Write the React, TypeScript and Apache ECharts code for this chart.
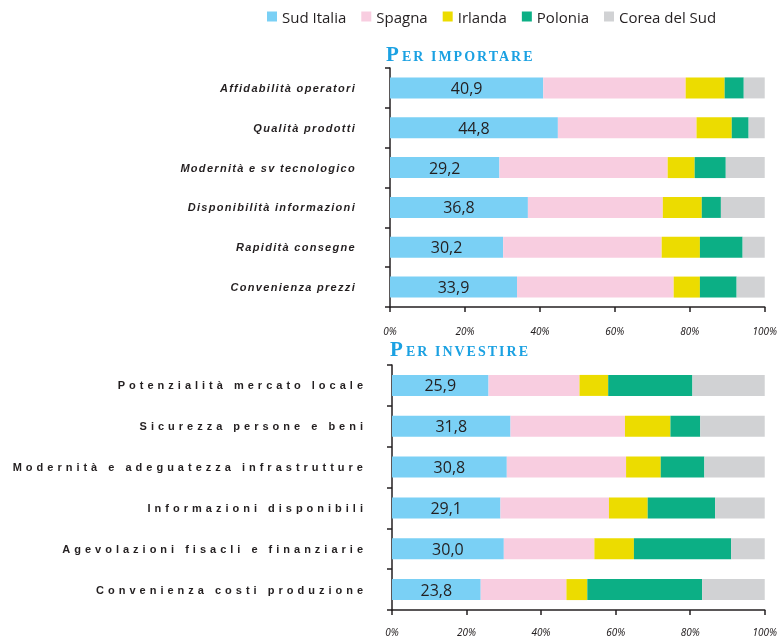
import React, { useEffect, useRef } from 'react';
import * as echarts from 'echarts';

const seriesNames = ['Sud Italia', 'Spagna', 'Irlanda', 'Polonia', 'Corea del Sud'];
const seriesColors = ['#7ad0f5', '#f8cde0', '#ecdc00', '#0caf85', '#d1d2d4'];

// Per importare
const importCategories = [
  'Affidabilità operatori',
  'Qualità prodotti',
  'Modernità e sv tecnologico',
  'Disponibilità informazioni',
  'Rapidità consegne',
  'Convenienza prezzi',
];
const importSudItalia = [40.9, 44.8, 29.2, 36.8, 30.2, 33.9];
const importSpagna = [38.0, 37.0, 44.9, 36.0, 42.3, 41.8];
const importIrlanda = [10.4, 9.4, 7.2, 10.4, 10.2, 7.0];
const importPolonia = [5.1, 4.5, 8.3, 5.1, 11.4, 9.8];
const importCorea = [5.6, 4.3, 10.4, 11.7, 5.9, 7.5];

// Per investire
const investCategories = [
  'Potenzialità mercato locale',
  'Sicurezza persone e beni',
  'Modernità e adeguatezza infrastrutture',
  'Informazioni disponibili',
  'Agevolazioni fisacli e finanziarie',
  'Convenienza costi produzione',
];
const investSudItalia = [25.9, 31.8, 30.8, 29.1, 30.0, 23.8];
const investSpagna = [24.4, 30.7, 32.0, 29.1, 24.3, 23.0];
const investIrlanda = [7.7, 12.2, 9.3, 10.4, 10.6, 5.6];
const investPolonia = [22.6, 8.0, 11.7, 18.1, 26.1, 30.8];
const investCorea = [19.4, 17.3, 16.2, 13.3, 9.0, 16.8];

const xMin = 0;
const xMax = 100;
const xInterval = 20;

const titleImport = ['P', 'ER IMPORTARE'];
const titleInvest = ['P', 'ER INVESTIRE'];

const css = `
.chartbox text[style*="Liberation Sans"] { letter-spacing: 4px; }
.chartbox text[style*="italic"][style*="Liberation Sans"] { letter-spacing: 1.3px; }
.chartbox text[style*="Liberation Serif"] { letter-spacing: 2px; }
`;

const ink = '#231f20';
const titleBlue = '#1ba1e2';

export default function App() {
  const ref = useRef<HTMLDivElement>(null);

  useEffect(() => {
    if (!ref.current) return;
    const chart = echarts.init(ref.current, null, { renderer: 'svg' });

    const importData = [importSudItalia, importSpagna, importIrlanda, importPolonia, importCorea];
    const investData = [investSudItalia, investSpagna, investIrlanda, investPolonia, investCorea];

    const barLabel = {
      show: true,
      position: 'inside',
      fontFamily: 'Open Sans',
      fontSize: 16,
      color: ink,
      formatter: (p: any) => Number(p.value).toFixed(1).replace('.', ','),
    };

    const makeSeries = (data: number[][], axisIndex: number, stack: string) =>
      data.map((vals, i) => ({
        name: seriesNames[i],
        type: 'bar',
        stack,
        xAxisIndex: axisIndex,
        yAxisIndex: axisIndex,
        data: vals,
        barWidth: 21,
        itemStyle: { color: seriesColors[i] },
        label: i === 0 ? barLabel : { show: false },
        emphasis: { disabled: true },
      }));

    const xAxisCommon = (gridIndex: number, margin: number) => ({
      type: 'value',
      gridIndex,
      min: xMin,
      max: xMax,
      interval: xInterval,
      splitLine: { show: false },
      axisLine: { show: true, lineStyle: { color: ink, width: 1.5 } },
      axisTick: { show: true, length: 5, lineStyle: { color: ink, width: 1.5 } },
      axisLabel: {
        margin,
        fontFamily: 'Noto Sans',
        fontStyle: 'italic',
        fontSize: 10,
        color: ink,
        formatter: '{value}%',
      },
    });

    const yAxisCommon = (gridIndex: number, cats: string[], margin: number, italic: boolean) => ({
      type: 'category',
      gridIndex,
      data: cats,
      inverse: true,
      axisLine: { show: true, lineStyle: { color: ink, width: 1.5 } },
      axisTick: { show: true, length: 5, lineStyle: { color: ink, width: 1.5 } },
      axisLabel: {
        interval: 0,
        margin,
        fontFamily: 'Liberation Sans',
        fontWeight: 'bold',
        fontStyle: italic ? 'italic' : 'normal',
        fontSize: 11,
        color: ink,
      },
    });

    const titleText = (x: number, y: number, text: string, size: number) => ({
      type: 'text',
      x,
      y,
      style: {
        text,
        fontFamily: 'Liberation Serif',
        fontWeight: 'bold',
        fontSize: size,
        fill: titleBlue,
        align: 'left',
        verticalAlign: 'bottom',
      },
    });

    const option: any = {
      animation: false,
      textStyle: { fontFamily: 'Open Sans' },
      legend: {
        data: seriesNames,
        left: 262,
        top: 4,
        icon: 'rect',
        itemWidth: 10,
        itemHeight: 10,
        itemGap: 15,
        selectedMode: false,
        textStyle: { fontFamily: 'Open Sans', fontSize: 15, color: ink },
      },
      grid: [
        { left: 390, width: 377, top: 68, height: 239 },
        { left: 392, width: 376, top: 365, height: 245 },
      ],
      xAxis: [xAxisCommon(0, 19), xAxisCommon(1, 17)],
      yAxis: [
        yAxisCommon(0, importCategories, 34, true),
        yAxisCommon(1, investCategories, 25, false),
      ],
      series: [...makeSeries(importData, 0, 'imp'), ...makeSeries(investData, 1, 'inv')],
      graphic: [
        titleText(386, 64, titleImport[0], 21),
        titleText(402, 63, titleImport[1], 14),
        titleText(390, 359, titleInvest[0], 21),
        titleText(406, 358, titleInvest[1], 14),
      ],
    };

    chart.setOption(option);
    return () => chart.dispose();
  }, []);

  return (
    <>
      <style>{css}</style>
      <div
        ref={ref}
        className="chartbox"
        style={{ position: 'fixed', left: 0, top: 0, width: 780, height: 640 }}
      />
    </>
  );
}
